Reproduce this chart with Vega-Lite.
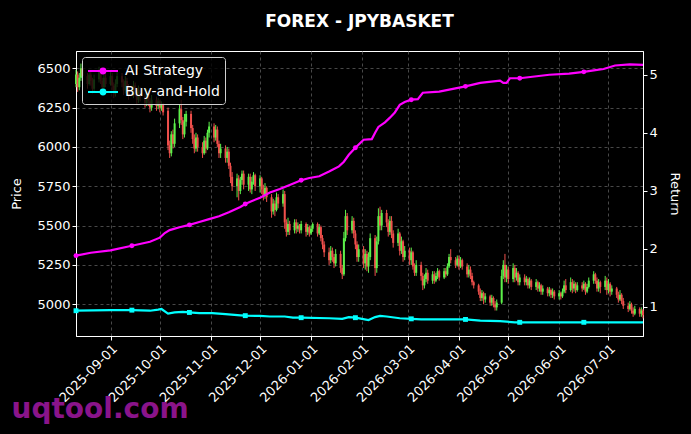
{
  "$schema": "https://vega.github.io/schema/vega-lite/v6.json",
  "width": 567,
  "height": 285,
  "autosize": {"type": "none"},
  "padding": {"left": 76, "top": 51, "right": 48, "bottom": 98},
  "background": "black",
  "title": {
    "text": "FOREX - JPYBASKET",
    "color": "white",
    "font": "DejaVu Sans",
    "fontSize": 17,
    "fontWeight": "bold",
    "anchor": "middle",
    "baseline": "alphabetic",
    "offset": 7
  },
  "datasets": {
    "candles": [
      {"d":"2025-08-11","o":6400,"h":6490,"l":6380,"c":6460},
      {"d":"2025-08-12","o":6460,"h":6480,"l":6350,"c":6380},
      {"d":"2025-08-13","o":6380,"h":6470,"l":6360,"c":6440},
      {"d":"2025-08-14","o":6440,"h":6530,"l":6420,"c":6500},
      {"d":"2025-08-15","o":6500,"h":6520,"l":6420,"c":6450},
      {"d":"2025-08-18","o":6450,"h":6470,"l":6370,"c":6400},
      {"d":"2025-08-19","o":6400,"h":6490,"l":6390,"c":6460},
      {"d":"2025-08-20","o":6460,"h":6480,"l":6390,"c":6420},
      {"d":"2025-08-21","o":6420,"h":6440,"l":6340,"c":6370},
      {"d":"2025-08-22","o":6370,"h":6460,"l":6350,"c":6430},
      {"d":"2025-08-25","o":6430,"h":6510,"l":6410,"c":6480},
      {"d":"2025-08-26","o":6480,"h":6500,"l":6400,"c":6420},
      {"d":"2025-08-27","o":6420,"h":6440,"l":6350,"c":6380},
      {"d":"2025-08-28","o":6380,"h":6460,"l":6360,"c":6440},
      {"d":"2025-08-29","o":6440,"h":6470,"l":6380,"c":6400},
      {"d":"2025-09-01","o":6400,"h":6480,"l":6390,"c":6450},
      {"d":"2025-09-02","o":6450,"h":6470,"l":6360,"c":6390},
      {"d":"2025-09-03","o":6390,"h":6410,"l":6310,"c":6340},
      {"d":"2025-09-04","o":6340,"h":6430,"l":6320,"c":6400},
      {"d":"2025-09-05","o":6400,"h":6480,"l":6380,"c":6450},
      {"d":"2025-09-08","o":6450,"h":6470,"l":6380,"c":6410},
      {"d":"2025-09-09","o":6410,"h":6430,"l":6330,"c":6360},
      {"d":"2025-09-10","o":6360,"h":6450,"l":6340,"c":6420},
      {"d":"2025-09-11","o":6420,"h":6440,"l":6350,"c":6380},
      {"d":"2025-09-12","o":6380,"h":6400,"l":6300,"c":6330},
      {"d":"2025-09-15","o":6330,"h":6420,"l":6310,"c":6390},
      {"d":"2025-09-16","o":6390,"h":6410,"l":6320,"c":6350},
      {"d":"2025-09-17","o":6350,"h":6370,"l":6270,"c":6300},
      {"d":"2025-09-18","o":6300,"h":6390,"l":6280,"c":6360},
      {"d":"2025-09-19","o":6360,"h":6380,"l":6290,"c":6320},
      {"d":"2025-09-22","o":6320,"h":6340,"l":6250,"c":6280},
      {"d":"2025-09-23","o":6280,"h":6370,"l":6260,"c":6340},
      {"d":"2025-09-24","o":6340,"h":6360,"l":6260,"c":6290},
      {"d":"2025-09-25","o":6290,"h":6310,"l":6220,"c":6250},
      {"d":"2025-09-26","o":6250,"h":6330,"l":6230,"c":6300},
      {"d":"2025-09-29","o":6300,"h":6320,"l":6230,"c":6260},
      {"d":"2025-09-30","o":6260,"h":6310,"l":6240,"c":6290},
      {"d":"2025-10-01","o":6290,"h":6300,"l":6220,"c":6250},
      {"d":"2025-10-02","o":6250,"h":6290,"l":6230,"c":6270},
      {"d":"2025-10-03","o":6270,"h":6280,"l":6200,"c":6220},
      {"d":"2025-10-06","o":6230,"h":6250,"l":5980,"c":6010},
      {"d":"2025-10-07","o":6010,"h":6040,"l":5930,"c":5960},
      {"d":"2025-10-08","o":5960,"h":6100,"l":5940,"c":6080},
      {"d":"2025-10-09","o":6080,"h":6110,"l":5990,"c":6020},
      {"d":"2025-10-10","o":6020,"h":6180,"l":6000,"c":6150},
      {"d":"2025-10-13","o":6150,"h":6270,"l":6120,"c":6240},
      {"d":"2025-10-14","o":6240,"h":6300,"l":6140,"c":6170},
      {"d":"2025-10-15","o":6170,"h":6190,"l":6050,"c":6080},
      {"d":"2025-10-16","o":6080,"h":6210,"l":6060,"c":6160},
      {"d":"2025-10-17","o":6160,"h":6230,"l":6130,"c":6210},
      {"d":"2025-10-20","o":6210,"h":6230,"l":6090,"c":6120},
      {"d":"2025-10-21","o":6120,"h":6140,"l":6020,"c":6050},
      {"d":"2025-10-22","o":6050,"h":6080,"l":5960,"c":5990},
      {"d":"2025-10-23","o":5990,"h":6090,"l":5970,"c":6060},
      {"d":"2025-10-24","o":6060,"h":6080,"l":5970,"c":6000},
      {"d":"2025-10-27","o":6000,"h":6030,"l":5930,"c":5960},
      {"d":"2025-10-28","o":5960,"h":6070,"l":5950,"c":6040},
      {"d":"2025-10-29","o":6040,"h":6060,"l":5960,"c":5990},
      {"d":"2025-10-30","o":5990,"h":6110,"l":5980,"c":6090},
      {"d":"2025-10-31","o":6090,"h":6160,"l":6060,"c":6130},
      {"d":"2025-11-03","o":6130,"h":6150,"l":6030,"c":6060},
      {"d":"2025-11-04","o":6060,"h":6140,"l":6040,"c":6110},
      {"d":"2025-11-05","o":6110,"h":6130,"l":6000,"c":6020},
      {"d":"2025-11-06","o":6020,"h":6040,"l":5930,"c":5960},
      {"d":"2025-11-07","o":5960,"h":6020,"l":5930,"c":5990},
      {"d":"2025-11-10","o":5990,"h":6010,"l":5900,"c":5930},
      {"d":"2025-11-11","o":5930,"h":6000,"l":5900,"c":5970},
      {"d":"2025-11-12","o":5970,"h":5990,"l":5860,"c":5880},
      {"d":"2025-11-13","o":5880,"h":5900,"l":5770,"c":5810},
      {"d":"2025-11-14","o":5810,"h":5840,"l":5720,"c":5750},
      {"d":"2025-11-17","o":5750,"h":5830,"l":5680,"c":5800},
      {"d":"2025-11-18","o":5800,"h":5820,"l":5660,"c":5720},
      {"d":"2025-11-19","o":5720,"h":5810,"l":5700,"c":5790},
      {"d":"2025-11-20","o":5790,"h":5850,"l":5760,"c":5830},
      {"d":"2025-11-21","o":5830,"h":5850,"l":5730,"c":5760},
      {"d":"2025-11-24","o":5760,"h":5830,"l":5720,"c":5810},
      {"d":"2025-11-25","o":5810,"h":5830,"l":5710,"c":5730},
      {"d":"2025-11-26","o":5730,"h":5810,"l":5700,"c":5780},
      {"d":"2025-11-27","o":5780,"h":5840,"l":5760,"c":5820},
      {"d":"2025-11-28","o":5820,"h":5830,"l":5720,"c":5750},
      {"d":"2025-12-01","o":5750,"h":5820,"l":5710,"c":5800},
      {"d":"2025-12-02","o":5800,"h":5810,"l":5700,"c":5730},
      {"d":"2025-12-03","o":5730,"h":5760,"l":5660,"c":5690},
      {"d":"2025-12-04","o":5690,"h":5770,"l":5670,"c":5740},
      {"d":"2025-12-05","o":5740,"h":5750,"l":5650,"c":5680},
      {"d":"2025-12-08","o":5680,"h":5700,"l":5550,"c":5590},
      {"d":"2025-12-09","o":5590,"h":5670,"l":5570,"c":5640},
      {"d":"2025-12-10","o":5640,"h":5660,"l":5560,"c":5600},
      {"d":"2025-12-11","o":5600,"h":5710,"l":5590,"c":5680},
      {"d":"2025-12-12","o":5680,"h":5700,"l":5610,"c":5640},
      {"d":"2025-12-15","o":5640,"h":5730,"l":5620,"c":5700},
      {"d":"2025-12-16","o":5700,"h":5720,"l":5480,"c":5520},
      {"d":"2025-12-17","o":5520,"h":5540,"l":5430,"c":5460},
      {"d":"2025-12-18","o":5460,"h":5550,"l":5440,"c":5510},
      {"d":"2025-12-19","o":5510,"h":5530,"l":5440,"c":5470},
      {"d":"2025-12-22","o":5470,"h":5540,"l":5450,"c":5520},
      {"d":"2025-12-23","o":5520,"h":5540,"l":5450,"c":5480},
      {"d":"2025-12-24","o":5480,"h":5520,"l":5460,"c":5500},
      {"d":"2025-12-25","o":5500,"h":5510,"l":5450,"c":5470},
      {"d":"2025-12-26","o":5470,"h":5530,"l":5450,"c":5510},
      {"d":"2025-12-29","o":5510,"h":5520,"l":5430,"c":5460},
      {"d":"2025-12-30","o":5460,"h":5510,"l":5440,"c":5490},
      {"d":"2025-12-31","o":5490,"h":5500,"l":5430,"c":5450},
      {"d":"2026-01-01","o":5450,"h":5500,"l":5440,"c":5480},
      {"d":"2026-01-02","o":5480,"h":5520,"l":5460,"c":5510},
      {"d":"2026-01-05","o":5510,"h":5520,"l":5430,"c":5450},
      {"d":"2026-01-06","o":5450,"h":5510,"l":5440,"c":5490},
      {"d":"2026-01-07","o":5490,"h":5500,"l":5400,"c":5420},
      {"d":"2026-01-08","o":5420,"h":5440,"l":5350,"c":5380},
      {"d":"2026-01-09","o":5380,"h":5400,"l":5300,"c":5330},
      {"d":"2026-01-12","o":5330,"h":5360,"l":5250,"c":5280},
      {"d":"2026-01-13","o":5280,"h":5370,"l":5260,"c":5340},
      {"d":"2026-01-14","o":5340,"h":5360,"l":5270,"c":5300},
      {"d":"2026-01-15","o":5300,"h":5320,"l":5230,"c":5260},
      {"d":"2026-01-16","o":5260,"h":5350,"l":5240,"c":5320},
      {"d":"2026-01-19","o":5320,"h":5340,"l":5200,"c":5230},
      {"d":"2026-01-20","o":5230,"h":5250,"l":5160,"c":5190},
      {"d":"2026-01-21","o":5190,"h":5460,"l":5180,"c":5420},
      {"d":"2026-01-22","o":5420,"h":5600,"l":5400,"c":5560},
      {"d":"2026-01-23","o":5560,"h":5580,"l":5440,"c":5470},
      {"d":"2026-01-26","o":5470,"h":5560,"l":5450,"c":5530},
      {"d":"2026-01-27","o":5530,"h":5550,"l":5420,"c":5450},
      {"d":"2026-01-28","o":5450,"h":5470,"l":5350,"c":5380},
      {"d":"2026-01-29","o":5380,"h":5400,"l":5270,"c":5300},
      {"d":"2026-01-30","o":5300,"h":5380,"l":5270,"c":5350},
      {"d":"2026-02-02","o":5350,"h":5370,"l":5230,"c":5260},
      {"d":"2026-02-03","o":5260,"h":5350,"l":5220,"c":5320},
      {"d":"2026-02-04","o":5320,"h":5340,"l":5210,"c":5240},
      {"d":"2026-02-05","o":5240,"h":5330,"l":5200,"c":5300},
      {"d":"2026-02-06","o":5300,"h":5450,"l":5280,"c":5420},
      {"d":"2026-02-09","o":5420,"h":5440,"l":5180,"c":5230},
      {"d":"2026-02-10","o":5230,"h":5430,"l":5200,"c":5400},
      {"d":"2026-02-11","o":5400,"h":5610,"l":5380,"c":5560},
      {"d":"2026-02-12","o":5560,"h":5620,"l":5470,"c":5500},
      {"d":"2026-02-13","o":5500,"h":5600,"l":5470,"c":5580},
      {"d":"2026-02-16","o":5580,"h":5600,"l":5490,"c":5520},
      {"d":"2026-02-17","o":5520,"h":5540,"l":5430,"c":5460},
      {"d":"2026-02-18","o":5460,"h":5560,"l":5440,"c":5530},
      {"d":"2026-02-19","o":5530,"h":5560,"l":5420,"c":5450},
      {"d":"2026-02-20","o":5450,"h":5470,"l":5360,"c":5390},
      {"d":"2026-02-23","o":5390,"h":5480,"l":5370,"c":5450},
      {"d":"2026-02-24","o":5450,"h":5460,"l":5310,"c":5340},
      {"d":"2026-02-25","o":5340,"h":5430,"l":5320,"c":5400},
      {"d":"2026-02-26","o":5400,"h":5410,"l":5270,"c":5300},
      {"d":"2026-02-27","o":5300,"h":5370,"l":5280,"c":5340},
      {"d":"2026-03-02","o":5340,"h":5360,"l":5250,"c":5280},
      {"d":"2026-03-03","o":5280,"h":5360,"l":5250,"c":5330},
      {"d":"2026-03-04","o":5330,"h":5340,"l":5220,"c":5240},
      {"d":"2026-03-05","o":5240,"h":5260,"l":5180,"c":5200},
      {"d":"2026-03-06","o":5200,"h":5280,"l":5180,"c":5250},
      {"d":"2026-03-09","o":5250,"h":5270,"l":5150,"c":5180},
      {"d":"2026-03-10","o":5180,"h":5200,"l":5090,"c":5120},
      {"d":"2026-03-11","o":5120,"h":5190,"l":5100,"c":5160},
      {"d":"2026-03-12","o":5160,"h":5230,"l":5140,"c":5200},
      {"d":"2026-03-13","o":5200,"h":5220,"l":5130,"c":5150},
      {"d":"2026-03-16","o":5150,"h":5210,"l":5130,"c":5190},
      {"d":"2026-03-17","o":5190,"h":5210,"l":5130,"c":5150},
      {"d":"2026-03-18","o":5150,"h":5200,"l":5140,"c":5180},
      {"d":"2026-03-19","o":5180,"h":5230,"l":5160,"c":5210},
      {"d":"2026-03-20","o":5210,"h":5220,"l":5150,"c":5170},
      {"d":"2026-03-23","o":5170,"h":5230,"l":5160,"c":5210},
      {"d":"2026-03-24","o":5210,"h":5230,"l":5170,"c":5190},
      {"d":"2026-03-25","o":5190,"h":5260,"l":5180,"c":5240},
      {"d":"2026-03-26","o":5240,"h":5320,"l":5230,"c":5300},
      {"d":"2026-03-27","o":5300,"h":5350,"l":5260,"c":5280},
      {"d":"2026-03-30","o":5280,"h":5300,"l":5230,"c":5250},
      {"d":"2026-03-31","o":5250,"h":5310,"l":5240,"c":5290},
      {"d":"2026-04-01","o":5290,"h":5310,"l":5220,"c":5240},
      {"d":"2026-04-02","o":5240,"h":5300,"l":5230,"c":5280},
      {"d":"2026-04-03","o":5280,"h":5290,"l":5220,"c":5240},
      {"d":"2026-04-06","o":5240,"h":5260,"l":5170,"c":5190},
      {"d":"2026-04-07","o":5190,"h":5250,"l":5170,"c":5220},
      {"d":"2026-04-08","o":5220,"h":5240,"l":5160,"c":5180},
      {"d":"2026-04-09","o":5180,"h":5200,"l":5120,"c":5140},
      {"d":"2026-04-10","o":5140,"h":5150,"l":5100,"c":5120},
      {"d":"2026-04-13","o":5120,"h":5130,"l":5060,"c":5080},
      {"d":"2026-04-14","o":5080,"h":5100,"l":5020,"c":5040},
      {"d":"2026-04-15","o":5040,"h":5090,"l":5020,"c":5070},
      {"d":"2026-04-16","o":5070,"h":5080,"l":5000,"c":5030},
      {"d":"2026-04-17","o":5030,"h":5070,"l":5010,"c":5050},
      {"d":"2026-04-20","o":5050,"h":5060,"l":4990,"c":5010},
      {"d":"2026-04-21","o":5010,"h":5060,"l":4990,"c":5040},
      {"d":"2026-04-22","o":5040,"h":5050,"l":4980,"c":5000},
      {"d":"2026-04-23","o":5000,"h":5020,"l":4960,"c":4980},
      {"d":"2026-04-24","o":4980,"h":5030,"l":4960,"c":5010},
      {"d":"2026-04-27","o":5010,"h":5220,"l":5000,"c":5180},
      {"d":"2026-04-28","o":5180,"h":5280,"l":5160,"c":5250},
      {"d":"2026-04-29","o":5250,"h":5320,"l":5140,"c":5170},
      {"d":"2026-04-30","o":5170,"h":5250,"l":5140,"c":5220},
      {"d":"2026-05-01","o":5220,"h":5240,"l":5130,"c":5160},
      {"d":"2026-05-04","o":5160,"h":5260,"l":5140,"c":5230},
      {"d":"2026-05-05","o":5230,"h":5250,"l":5140,"c":5170},
      {"d":"2026-05-06","o":5170,"h":5230,"l":5150,"c":5200},
      {"d":"2026-05-07","o":5200,"h":5210,"l":5120,"c":5140},
      {"d":"2026-05-08","o":5140,"h":5190,"l":5120,"c":5170},
      {"d":"2026-05-11","o":5170,"h":5190,"l":5120,"c":5140},
      {"d":"2026-05-12","o":5140,"h":5180,"l":5120,"c":5160},
      {"d":"2026-05-13","o":5160,"h":5170,"l":5100,"c":5120},
      {"d":"2026-05-14","o":5120,"h":5170,"l":5100,"c":5150},
      {"d":"2026-05-15","o":5150,"h":5160,"l":5090,"c":5110},
      {"d":"2026-05-18","o":5110,"h":5160,"l":5090,"c":5140},
      {"d":"2026-05-19","o":5140,"h":5150,"l":5080,"c":5100},
      {"d":"2026-05-20","o":5100,"h":5140,"l":5080,"c":5120},
      {"d":"2026-05-21","o":5120,"h":5130,"l":5060,"c":5080},
      {"d":"2026-05-22","o":5080,"h":5120,"l":5060,"c":5100},
      {"d":"2026-05-25","o":5100,"h":5110,"l":5050,"c":5070},
      {"d":"2026-05-26","o":5070,"h":5110,"l":5050,"c":5090},
      {"d":"2026-05-27","o":5090,"h":5100,"l":5040,"c":5060},
      {"d":"2026-05-28","o":5060,"h":5100,"l":5040,"c":5080},
      {"d":"2026-05-29","o":5080,"h":5090,"l":5030,"c":5050},
      {"d":"2026-06-01","o":5050,"h":5090,"l":5030,"c":5070},
      {"d":"2026-06-02","o":5070,"h":5080,"l":5030,"c":5050},
      {"d":"2026-06-03","o":5050,"h":5100,"l":5040,"c":5080},
      {"d":"2026-06-04","o":5080,"h":5150,"l":5070,"c":5120},
      {"d":"2026-06-05","o":5120,"h":5160,"l":5070,"c":5090},
      {"d":"2026-06-08","o":5090,"h":5170,"l":5080,"c":5140},
      {"d":"2026-06-09","o":5140,"h":5160,"l":5070,"c":5100},
      {"d":"2026-06-10","o":5100,"h":5150,"l":5080,"c":5130},
      {"d":"2026-06-11","o":5130,"h":5140,"l":5070,"c":5090},
      {"d":"2026-06-12","o":5090,"h":5140,"l":5080,"c":5120},
      {"d":"2026-06-15","o":5120,"h":5140,"l":5080,"c":5100},
      {"d":"2026-06-16","o":5100,"h":5150,"l":5090,"c":5130},
      {"d":"2026-06-17","o":5130,"h":5140,"l":5060,"c":5080},
      {"d":"2026-06-18","o":5080,"h":5130,"l":5070,"c":5110},
      {"d":"2026-06-19","o":5110,"h":5170,"l":5100,"c":5150},
      {"d":"2026-06-22","o":5150,"h":5210,"l":5130,"c":5190},
      {"d":"2026-06-23","o":5190,"h":5200,"l":5130,"c":5150},
      {"d":"2026-06-24","o":5150,"h":5170,"l":5080,"c":5100},
      {"d":"2026-06-25","o":5100,"h":5160,"l":5080,"c":5140},
      {"d":"2026-06-26","o":5140,"h":5150,"l":5070,"c":5110},
      {"d":"2026-06-29","o":5110,"h":5180,"l":5090,"c":5150},
      {"d":"2026-06-30","o":5150,"h":5170,"l":5060,"c":5090},
      {"d":"2026-07-01","o":5090,"h":5160,"l":5070,"c":5130},
      {"d":"2026-07-02","o":5130,"h":5140,"l":5050,"c":5080},
      {"d":"2026-07-03","o":5080,"h":5120,"l":5060,"c":5100},
      {"d":"2026-07-06","o":5100,"h":5110,"l":5040,"c":5060},
      {"d":"2026-07-07","o":5060,"h":5080,"l":5010,"c":5030},
      {"d":"2026-07-08","o":5030,"h":5090,"l":5020,"c":5060},
      {"d":"2026-07-09","o":5060,"h":5070,"l":5000,"c":5020},
      {"d":"2026-07-10","o":5020,"h":5040,"l":4970,"c":4990},
      {"d":"2026-07-13","o":4990,"h":5010,"l":4950,"c":4970},
      {"d":"2026-07-14","o":4970,"h":5020,"l":4960,"c":5000},
      {"d":"2026-07-15","o":5000,"h":5010,"l":4940,"c":4960},
      {"d":"2026-07-16","o":4960,"h":4980,"l":4920,"c":4940},
      {"d":"2026-07-17","o":4940,"h":4990,"l":4930,"c":4970},
      {"d":"2026-07-20","o":4970,"h":4980,"l":4920,"c":4940},
      {"d":"2026-07-21","o":4940,"h":4980,"l":4920,"c":4960},
      {"d":"2026-07-22","o":4960,"h":4970,"l":4910,"c":4930}
    ],
    "returns": [
      {"d":"2025-08-11","s":"AI Strategy","v":1.88},
      {"d":"2025-08-20","s":"AI Strategy","v":1.93},
      {"d":"2025-09-01","s":"AI Strategy","v":1.97},
      {"d":"2025-09-14","s":"AI Strategy","v":2.05},
      {"d":"2025-09-25","s":"AI Strategy","v":2.12},
      {"d":"2025-10-01","s":"AI Strategy","v":2.19},
      {"d":"2025-10-04","s":"AI Strategy","v":2.27},
      {"d":"2025-10-07","s":"AI Strategy","v":2.32},
      {"d":"2025-10-13","s":"AI Strategy","v":2.37},
      {"d":"2025-10-19","s":"AI Strategy","v":2.41},
      {"d":"2025-10-25","s":"AI Strategy","v":2.46},
      {"d":"2025-10-31","s":"AI Strategy","v":2.51},
      {"d":"2025-11-06","s":"AI Strategy","v":2.56},
      {"d":"2025-11-12","s":"AI Strategy","v":2.63},
      {"d":"2025-11-19","s":"AI Strategy","v":2.72},
      {"d":"2025-11-22","s":"AI Strategy","v":2.77},
      {"d":"2025-11-25","s":"AI Strategy","v":2.81},
      {"d":"2025-12-01","s":"AI Strategy","v":2.88},
      {"d":"2025-12-07","s":"AI Strategy","v":2.97},
      {"d":"2025-12-13","s":"AI Strategy","v":3.03},
      {"d":"2025-12-19","s":"AI Strategy","v":3.10},
      {"d":"2025-12-26","s":"AI Strategy","v":3.18},
      {"d":"2025-12-31","s":"AI Strategy","v":3.22},
      {"d":"2026-01-06","s":"AI Strategy","v":3.25},
      {"d":"2026-01-12","s":"AI Strategy","v":3.33},
      {"d":"2026-01-18","s":"AI Strategy","v":3.42},
      {"d":"2026-01-21","s":"AI Strategy","v":3.50},
      {"d":"2026-01-24","s":"AI Strategy","v":3.62},
      {"d":"2026-01-28","s":"AI Strategy","v":3.74},
      {"d":"2026-02-02","s":"AI Strategy","v":3.88},
      {"d":"2026-02-07","s":"AI Strategy","v":3.89},
      {"d":"2026-02-09","s":"AI Strategy","v":4.00},
      {"d":"2026-02-11","s":"AI Strategy","v":4.10},
      {"d":"2026-02-15","s":"AI Strategy","v":4.18},
      {"d":"2026-02-18","s":"AI Strategy","v":4.26},
      {"d":"2026-02-21","s":"AI Strategy","v":4.35},
      {"d":"2026-02-24","s":"AI Strategy","v":4.48},
      {"d":"2026-02-27","s":"AI Strategy","v":4.53},
      {"d":"2026-03-03","s":"AI Strategy","v":4.57},
      {"d":"2026-03-07","s":"AI Strategy","v":4.58},
      {"d":"2026-03-10","s":"AI Strategy","v":4.69},
      {"d":"2026-03-20","s":"AI Strategy","v":4.71},
      {"d":"2026-04-05","s":"AI Strategy","v":4.80},
      {"d":"2026-04-14","s":"AI Strategy","v":4.86},
      {"d":"2026-04-26","s":"AI Strategy","v":4.90},
      {"d":"2026-04-28","s":"AI Strategy","v":4.86},
      {"d":"2026-04-30","s":"AI Strategy","v":4.86},
      {"d":"2026-05-02","s":"AI Strategy","v":4.94},
      {"d":"2026-05-08","s":"AI Strategy","v":4.94},
      {"d":"2026-05-26","s":"AI Strategy","v":5.00},
      {"d":"2026-06-07","s":"AI Strategy","v":5.02},
      {"d":"2026-06-16","s":"AI Strategy","v":5.05},
      {"d":"2026-06-21","s":"AI Strategy","v":5.07},
      {"d":"2026-06-28","s":"AI Strategy","v":5.10},
      {"d":"2026-07-05","s":"AI Strategy","v":5.16},
      {"d":"2026-07-14","s":"AI Strategy","v":5.18},
      {"d":"2026-07-22","s":"AI Strategy","v":5.17},
      {"d":"2025-08-11","s":"Buy-and-Hold","v":0.93},
      {"d":"2025-09-01","s":"Buy-and-Hold","v":0.94},
      {"d":"2025-09-14","s":"Buy-and-Hold","v":0.94},
      {"d":"2025-09-25","s":"Buy-and-Hold","v":0.93},
      {"d":"2025-09-30","s":"Buy-and-Hold","v":0.95},
      {"d":"2025-10-02","s":"Buy-and-Hold","v":0.96},
      {"d":"2025-10-06","s":"Buy-and-Hold","v":0.88},
      {"d":"2025-10-10","s":"Buy-and-Hold","v":0.90},
      {"d":"2025-10-15","s":"Buy-and-Hold","v":0.91},
      {"d":"2025-10-19","s":"Buy-and-Hold","v":0.90},
      {"d":"2025-10-25","s":"Buy-and-Hold","v":0.89},
      {"d":"2025-11-02","s":"Buy-and-Hold","v":0.89},
      {"d":"2025-11-10","s":"Buy-and-Hold","v":0.87},
      {"d":"2025-11-19","s":"Buy-and-Hold","v":0.85},
      {"d":"2025-11-22","s":"Buy-and-Hold","v":0.845},
      {"d":"2025-12-01","s":"Buy-and-Hold","v":0.84},
      {"d":"2025-12-07","s":"Buy-and-Hold","v":0.83},
      {"d":"2025-12-16","s":"Buy-and-Hold","v":0.83},
      {"d":"2025-12-21","s":"Buy-and-Hold","v":0.81},
      {"d":"2025-12-26","s":"Buy-and-Hold","v":0.81},
      {"d":"2026-01-12","s":"Buy-and-Hold","v":0.80},
      {"d":"2026-01-20","s":"Buy-and-Hold","v":0.79},
      {"d":"2026-01-24","s":"Buy-and-Hold","v":0.82},
      {"d":"2026-01-28","s":"Buy-and-Hold","v":0.81},
      {"d":"2026-02-05","s":"Buy-and-Hold","v":0.77},
      {"d":"2026-02-09","s":"Buy-and-Hold","v":0.82},
      {"d":"2026-02-12","s":"Buy-and-Hold","v":0.84},
      {"d":"2026-02-16","s":"Buy-and-Hold","v":0.83},
      {"d":"2026-02-24","s":"Buy-and-Hold","v":0.80},
      {"d":"2026-03-03","s":"Buy-and-Hold","v":0.79},
      {"d":"2026-03-09","s":"Buy-and-Hold","v":0.78},
      {"d":"2026-04-05","s":"Buy-and-Hold","v":0.78},
      {"d":"2026-04-14","s":"Buy-and-Hold","v":0.76},
      {"d":"2026-04-26","s":"Buy-and-Hold","v":0.75},
      {"d":"2026-05-05","s":"Buy-and-Hold","v":0.73},
      {"d":"2026-05-08","s":"Buy-and-Hold","v":0.73},
      {"d":"2026-06-16","s":"Buy-and-Hold","v":0.73},
      {"d":"2026-07-22","s":"Buy-and-Hold","v":0.73}
    ],
    "markers": [
      {"d":"2025-08-11","s":"AI Strategy","v":1.88},
      {"d":"2025-09-14","s":"AI Strategy","v":2.05},
      {"d":"2025-10-19","s":"AI Strategy","v":2.41},
      {"d":"2025-11-22","s":"AI Strategy","v":2.77},
      {"d":"2025-12-26","s":"AI Strategy","v":3.18},
      {"d":"2026-01-28","s":"AI Strategy","v":3.74},
      {"d":"2026-03-03","s":"AI Strategy","v":4.57},
      {"d":"2026-04-05","s":"AI Strategy","v":4.80},
      {"d":"2026-05-08","s":"AI Strategy","v":4.94},
      {"d":"2026-06-16","s":"AI Strategy","v":5.05},
      {"d":"2025-08-11","s":"Buy-and-Hold","v":0.93},
      {"d":"2025-09-14","s":"Buy-and-Hold","v":0.94},
      {"d":"2025-10-19","s":"Buy-and-Hold","v":0.90},
      {"d":"2025-11-22","s":"Buy-and-Hold","v":0.845},
      {"d":"2025-12-26","s":"Buy-and-Hold","v":0.81},
      {"d":"2026-01-28","s":"Buy-and-Hold","v":0.81},
      {"d":"2026-03-03","s":"Buy-and-Hold","v":0.79},
      {"d":"2026-04-05","s":"Buy-and-Hold","v":0.78},
      {"d":"2026-05-08","s":"Buy-and-Hold","v":0.73},
      {"d":"2026-06-16","s":"Buy-and-Hold","v":0.73}
    ]
  },
  "encoding": {
    "x": {
      "field": "d",
      "type": "temporal",
      "scale": {
        "type": "utc",
        "domain": [
          {"year": 2025, "month": 8, "date": 11, "utc": true},
          {"year": 2026, "month": 7, "date": 22, "utc": true}
        ]
      },
      "axis": {
        "title": "uqtool.com",
        "titleColor": "#8a148a",
        "titleFont": "DejaVu Sans",
        "titleFontSize": 28,
        "titleFontWeight": "bold",
        "titleAlign": "left",
        "titleAnchor": "start",
        "titleBaseline": "alphabetic",
        "titleX": -65,
        "titleY": 81,
        "format": "%Y-%m-%d",
        "labelAngle": -45,
        "labelAlign": "right",
        "labelBaseline": "top",
        "labelOverlap": false,
        "labelFlush": false,
        "labelBound": false,
        "grid": true,
        "values": [
          {"year": 2025, "month": 9, "date": 1, "utc": true},
          {"year": 2025, "month": 10, "date": 1, "utc": true},
          {"year": 2025, "month": 11, "date": 1, "utc": true},
          {"year": 2025, "month": 12, "date": 1, "utc": true},
          {"year": 2026, "month": 1, "date": 1, "utc": true},
          {"year": 2026, "month": 2, "date": 1, "utc": true},
          {"year": 2026, "month": 3, "date": 1, "utc": true},
          {"year": 2026, "month": 4, "date": 1, "utc": true},
          {"year": 2026, "month": 5, "date": 1, "utc": true},
          {"year": 2026, "month": 6, "date": 1, "utc": true},
          {"year": 2026, "month": 7, "date": 1, "utc": true}
        ]
      }
    }
  },
  "layer": [
    {
      "data": {"name": "candles"},
      "encoding": {
        "y": {
          "type": "quantitative",
          "scale": {"domain": [4798, 6610], "nice": false, "zero": false},
          "axis": {
            "title": "Price",
            "orient": "left",
            "format": "d",
            "grid": true,
            "titlePadding": 13,
            "values": [5000, 5250, 5500, 5750, 6000, 6250, 6500]
          }
        },
        "color": {
          "condition": {"test": "datum.c >= datum.o", "value": "#5cf04a"},
          "value": "#f0504c"
        }
      },
      "layer": [
        {
          "mark": {"type": "rule", "strokeWidth": 1},
          "encoding": {"y": {"field": "l", "type": "quantitative"}, "y2": {"field": "h"}}
        },
        {
          "mark": {"type": "rule", "strokeWidth": 2},
          "encoding": {"y": {"field": "o", "type": "quantitative"}, "y2": {"field": "c"}}
        }
      ]
    },
    {
      "encoding": {
        "y": {
          "field": "v",
          "type": "quantitative",
          "scale": {"domain": [0.494, 5.41], "nice": false, "zero": false},
          "axis": {
            "title": "Return",
            "orient": "right",
            "grid": false,
            "titlePadding": 10,
            "values": [1, 2, 3, 4, 5]
          }
        },
        "color": {
          "field": "s",
          "type": "nominal",
          "scale": {"domain": ["AI Strategy", "Buy-and-Hold"], "range": ["#ff00ff", "#00ffff"]},
          "legend": {
            "title": null,
            "orient": "top-left",
            "offset": 6,
            "padding": 5,
            "fillColor": "rgba(0,0,0,0.8)",
            "strokeColor": "#d0d0d0",
            "cornerRadius": 3,
            "labelColor": "white",
            "labelFont": "DejaVu Sans",
            "labelFontSize": 14,
            "labelOffset": 13,
            "symbolType": "M-1.875,0L1.875,0M-0.3,0A0.3,0.3,0,1,0,0.3,0A0.3,0.3,0,1,0,-0.3,0Z",
            "symbolSize": 256,
            "symbolOffset": 7,
            "symbolStrokeWidth": 2,
            "rowPadding": 5
          }
        }
      },
      "layer": [
        {
          "data": {"name": "returns"},
          "mark": {"type": "line", "strokeWidth": 2.2}
        },
        {
          "data": {"name": "markers"},
          "transform": [{"filter": "datum.s === 'AI Strategy'"}],
          "mark": {"type": "point", "shape": "circle", "filled": true, "size": 24, "opacity": 1}
        },
        {
          "data": {"name": "markers"},
          "transform": [{"filter": "datum.s === 'Buy-and-Hold'"}],
          "mark": {"type": "point", "shape": "square", "filled": true, "size": 24, "opacity": 1}
        }
      ]
    }
  ],
  "resolve": {"scale": {"y": "independent"}},
  "config": {
    "view": {"stroke": "white", "strokeWidth": 1},
    "axis": {
      "domainColor": "white",
      "tickColor": "white",
      "labelColor": "white",
      "titleColor": "white",
      "labelFont": "DejaVu Sans",
      "titleFont": "DejaVu Sans",
      "labelFontSize": 13,
      "titleFontSize": 13,
      "titleFontWeight": "normal",
      "gridColor": "#5a5a5a",
      "gridDash": [3, 3],
      "gridWidth": 0.8,
      "tickSize": 4
    }
  }
}
